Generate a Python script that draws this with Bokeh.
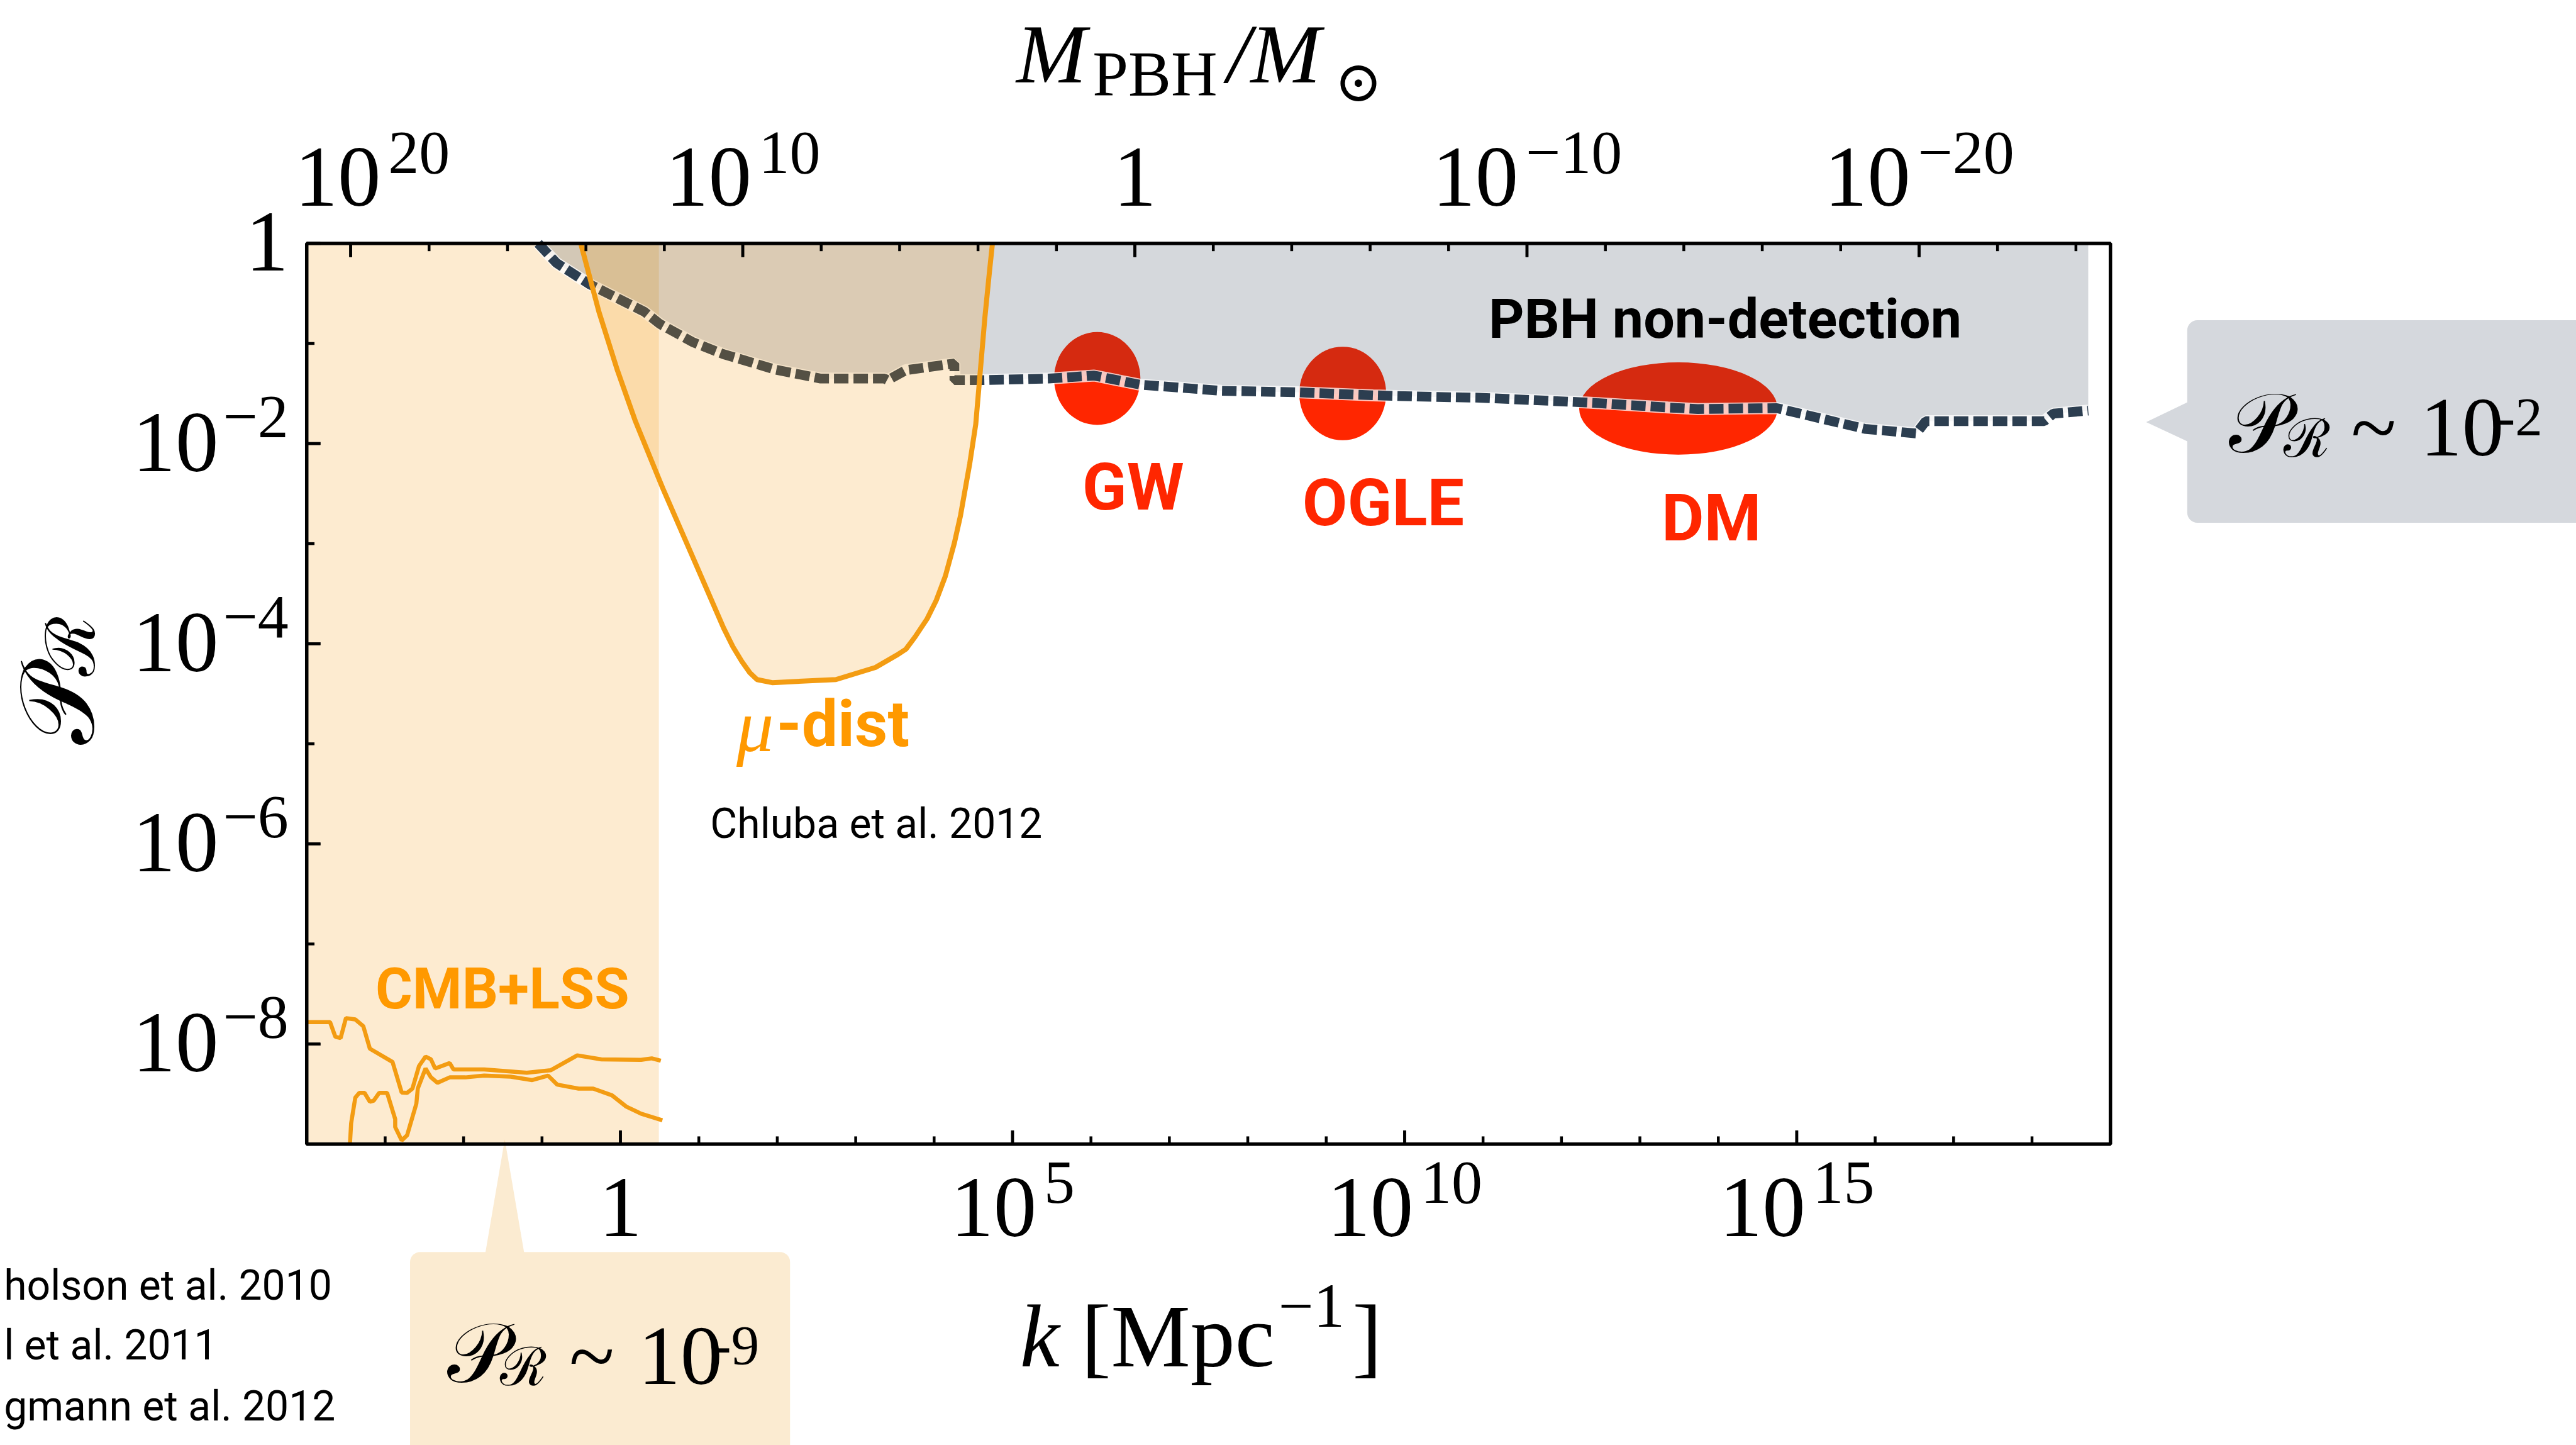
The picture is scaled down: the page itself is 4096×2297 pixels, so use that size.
from math import log10, pi
from bokeh.plotting import figure
from bokeh.models import Range1d, BoxAnnotation, PolyAnnotation, ColumnDataSource
from bokeh.core.properties import value
from bokeh.embed import file_html
from bokeh.resources import INLINE

# ---------------------------------------------------------------- data
# all values are log10 of k [Mpc^-1] and of P_R
pbh_logk = [-1.049, -0.816, -0.390, -0.003, 0.307, 0.500, 0.925, 1.313, 1.586, 1.973,
            2.555, 3.368, 3.407, 3.640, 4.259, 4.259, 4.609, 5.459, 6.042, 6.621,
            7.662, 8.631, 9.598, 10.373, 10.956, 12.310, 13.358, 13.738, 14.745,
            15.869, 16.525, 16.644, 18.155, 18.272, 18.717]
pbh_logP = [0.0, -0.196, -0.410, -0.562, -0.684, -0.804, -0.988, -1.107, -1.170, -1.261,
            -1.351, -1.351, -1.367, -1.267, -1.200, -1.367, -1.367, -1.351, -1.321, -1.411,
            -1.473, -1.488, -1.518, -1.534, -1.542, -1.589, -1.640, -1.655, -1.646,
            -1.853, -1.899, -1.777, -1.777, -1.701, -1.671]

mu_logk = [-0.506, -0.274, -0.042, 0.191, 0.539, 0.927, 1.315, 1.434, 1.547, 1.650, 1.741,
           1.935, 2.748, 3.252, 3.522, 3.640, 3.756, 3.911, 4.027, 4.143, 4.259, 4.337,
           4.454, 4.531, 4.647, 4.705, 4.744]
mu_logP = [0.0, -0.684, -1.260, -1.777, -2.445, -3.143, -3.842, -4.030, -4.176, -4.290, -4.358,
           -4.389, -4.358, -4.237, -4.115, -4.055, -3.933, -3.751, -3.568, -3.326, -2.992, -2.718,
           -2.202, -1.807, -0.744, -0.289, 0.0]

cmb1_logk = [-4.0, -3.703, -3.635, -3.568, -3.500, -3.381, -3.279, -3.195, -2.906, -2.789,
             -2.720, -2.652, -2.568, -2.485, -2.416, -2.363, -2.177, -2.128, -1.737, -1.194,
             -0.890, -0.550, -0.244, 0.264, 0.399, 0.515]
cmb1_logP = [-7.780, -7.780, -7.927, -7.940, -7.741, -7.754, -7.821, -8.046, -8.179, -8.485,
             -8.488, -8.445, -8.219, -8.125, -8.153, -8.244, -8.190, -8.254, -8.254, -8.286,
             -8.262, -8.113, -8.153, -8.158, -8.143, -8.167]
cmb2_logk = [-3.449, -3.434, -3.381, -3.330, -3.263, -3.195, -3.146, -3.077, -2.975, -2.872,
             -2.872, -2.789, -2.720, -2.602, -2.584, -2.485, -2.416, -2.333, -2.177, -1.976,
             -1.737, -1.399, -1.125, -0.923, -0.806, -0.533, -0.347, -0.108, 0.075, 0.264, 0.535]
cmb2_logP = [-9.0, -8.792, -8.536, -8.488, -8.488, -8.577, -8.565, -8.488, -8.488, -8.750,
             -8.830, -8.963, -8.911, -8.595, -8.445, -8.244, -8.333, -8.387, -8.333, -8.333,
             -8.315, -8.326, -8.360, -8.315, -8.405, -8.445, -8.445, -8.512, -8.625, -8.696, -8.762]
cmb_band_logk_max = 0.49

hint_names = ["GW", "OGLE", "DM"]
hint_logk = [6.08, 9.21, 13.49]
hint_logP = [-1.35, -1.50, -1.65]

k_ticks = [1.0, 1e5, 1e10, 1e15]
k_tick_exp = ["", "5", "10", "15"]
k_minor = [10.0 ** e for e in range(-4, 20)]
P_ticks = [1.0, 1e-2, 1e-4, 1e-6, 1e-8]
P_tick_exp = ["", "\u22122", "\u22124", "\u22126", "\u22128"]
P_minor = [10.0 ** e for e in range(-9, 1)]
M_ticks = [1e20, 1e10, 1.0, 1e-10, 1e-20]
M_tick_exp = ["20", "10", "", "\u221210", "\u221220"]
M_minor = [10.0 ** e for e in range(20, -26, -2)]
LOGM_AT_K1 = 13.12          # log10 M_PBH/M_sun at k = 1 Mpc^-1  (M ~ k^-2)

refs_left = ["holson et al. 2010", "l et al. 2011", "gmann et al. 2012"]

# ---------------------------------------------------------------- layout
S = 0.947
W, H = 4096, 2297
FL, FR, FT, FB = 514.5, 3543.0, 408.0, 1920.0      # plot frame, reference pixels
KMIN, KMAX, PMIN, PMAX = -4.0, 19.0, -9.0, 0.0
WR, HR = W / S, H / S


def kx(X):
    return 10 ** (KMIN + (X - FL) / (FR - FL) * (KMAX - KMIN))


def py(Y):
    return 10 ** (PMAX - (Y - FT) / (FB - FT) * (PMAX - PMIN))


def k_of_M(M):
    return 10 ** ((LOGM_AT_K1 - log10(M)) / 2)


SERIF = "Liberation Serif"
SANS = "Roboto"
ORANGE = "#F39C12"
ORANGE_TXT = "#FF9900"
NAVY = "#2C3E50"
RED = "#FF2600"

p = figure(width=W, height=H, x_axis_type="log", y_axis_type="log",
           x_range=Range1d(kx(0), kx(WR)), y_range=Range1d(py(HR), py(0)),
           x_axis_location=None, y_axis_location=None,
           output_backend="svg", toolbar_location=None, min_border=0)
p.background_fill_color = "white"
p.border_fill_color = "white"
p.outline_line_color = None
p.xgrid.visible = False
p.ygrid.visible = False

K0, K1, P0, P1 = 10 ** KMIN, 10 ** KMAX, 10 ** PMIN, 10 ** PMAX

# ---------------------------------------------------------------- callout boxes (underlay)
GRAY_BOX = "#D5D8DD"
PEACH_BOX = "#FBEBD1"
p.add_layout(BoxAnnotation(left=kx(3672), right=kx(4500), top=py(537), bottom=py(877),
                           fill_color=GRAY_BOX, fill_alpha=1.0, line_color=None,
                           border_radius=16, level="underlay"))
p.add_layout(PolyAnnotation(xs=[kx(3603), kx(3676), kx(3676)], ys=[py(708), py(673), py(742)],
                            fill_color=GRAY_BOX, fill_alpha=1.0, line_color=None, level="underlay"))
p.add_layout(BoxAnnotation(left=kx(688), right=kx(1326), top=py(2101), bottom=py(2600),
                           fill_color=PEACH_BOX, fill_alpha=1.0, line_color=None,
                           border_radius=16, level="underlay"))
p.add_layout(PolyAnnotation(xs=[kx(847), kx(814), kx(880)], ys=[py(1912), py(2105), py(2105)],
                            fill_color=PEACH_BOX, fill_alpha=1.0, line_color=None, level="underlay"))

# ---------------------------------------------------------------- glyphs
pbh_k = [10 ** v for v in pbh_logk]
pbh_P = [10 ** v for v in pbh_logP]
mu_k = [10 ** v for v in mu_logk]
mu_P = [10 ** v for v in mu_logP]

p.quad(left=[K0], right=[10 ** cmb_band_logk_max], bottom=[P0], top=[P1],
       fill_color=ORANGE, fill_alpha=0.2, line_color=None)
p.ellipse(x=[10 ** v for v in hint_logk], y=[10 ** v for v in hint_logP],
          width=[145 * S, 146 * S, 333 * S], height=[156 * S, 157 * S, 155 * S],
          width_units="screen", height_units="screen", fill_color=RED, line_color=None)
p.varea(x=pbh_k, y1=pbh_P, y2=[P1] * len(pbh_k), fill_color=NAVY, fill_alpha=0.2)
p.line(pbh_k, pbh_P, line_color="white", line_width=19, line_alpha=0.75)
p.line(pbh_k, pbh_P, line_color=NAVY, line_width=15.5, line_dash="23 8", line_cap="butt")
p.patch(mu_k, mu_P, fill_color=ORANGE, fill_alpha=0.2, line_color=None)
p.line(mu_k, mu_P, line_color=ORANGE, line_width=8)
p.line([10 ** v for v in cmb1_logk], [10 ** v for v in cmb1_logP], line_color=ORANGE, line_width=6.5)
p.line([10 ** v for v in cmb2_logk], [10 ** v for v in cmb2_logP], line_color=ORANGE, line_width=6.5)

# ---------------------------------------------------------------- frame and ticks
TMAJ, TMIN = 23.0, 13.0
kt = k_minor + k_ticks
p.segment(x0=kt, y0=[P0] * len(kt), x1=kt,
          y1=[py(FB - (TMAJ if k in k_ticks else TMIN)) for k in kt],
          line_color="black", line_width=4.5)
mt = M_minor + M_ticks
p.segment(x0=[k_of_M(m) for m in mt], y0=[P1] * len(mt), x1=[k_of_M(m) for m in mt],
          y1=[py(FT + (TMAJ if m in M_ticks else TMIN)) for m in mt],
          line_color="black", line_width=4.5)
pt = P_minor + P_ticks
p.segment(x0=[K0] * len(pt), y0=pt, x1=[kx(FL + (TMAJ if v in P_ticks else TMIN)) for v in pt],
          y1=pt, line_color="black", line_width=4.5)
p.quad(left=[K0], right=[K1], bottom=[P0], top=[P1], fill_color=None,
       line_color="black", line_width=5.5)

# ---------------------------------------------------------------- texts
COLS = ("x", "y", "text", "font", "size", "style", "color", "align", "angle", "xo")
T = {c: [] for c in COLS}
BASE_CORR = {SERIF: 0.29, SANS: 0.37, "DejaVu Serif": 0.30}


def txt(x, Y, text, size, font=SERIF, style="normal", color="black", align="left", angle=0.0, xo=0.0):
    """x in data units, Y = wanted baseline in reference pixels"""
    corr = BASE_CORR.get(font, 0.3) * size if angle == 0.0 else 0.0
    for c, v in zip(COLS, (x, py(Y - corr), text, font, f"{round(size * S)}px", style, color,
                           align, angle, xo)):
        T[c].append(v)


def lab(X, Y, text, size, **kw):
    txt(kx(X), Y, text, size, **kw)


F, FE, G = 145.0, 103.0, 12.0


def exp_width(e):
    return sum(0.564 if ch == "\u2212" else 0.5 for ch in e) * FE


def centered_ticklabels(kvals, exps, ybase, yexp, shifts=None):
    for i, (v, e) in enumerate(zip(kvals, exps)):
        sh = shifts[i] if shifts else 0.0
        if e == "":
            txt(v, ybase, "1", F, align="center", xo=sh * S)
        else:
            left = -(F + G + exp_width(e)) / 2 + sh
            txt(v, ybase, "10", F, xo=left * S)
            txt(v, yexp, e, FE, xo=(left + F + G) * S)


centered_ticklabels(k_ticks, k_tick_exp, 2068, 2015)
centered_ticklabels([k_of_M(m) for m in M_ticks], M_tick_exp, 339, 286, shifts=[36, 0, 0, 0, 0])

for v, e in zip(P_ticks, P_tick_exp):
    ty = FT + (PMAX - log10(v)) * (FB - FT) / (PMAX - PMIN)
    if e == "":
        lab(484, ty + 40, "1", F, align="right")
    else:
        lab(484, ty + 40 - 55, e, FE, align="right")
        lab(484 - exp_width(e) - G + 4, ty + 40, "10", F, align="right")

# axis titles
lab(1706, 131, "M", 141, style="italic")
lab(1834, 155, "PBH", 108)
lab(2060, 131, "/M", 141, style="italic")
lab(2240, 165, "\u2299", 96, font="DejaVu Serif")

lab(1712, 2286, "k", 150, style="italic")
lab(1815, 2286, "[Mpc", 150)
lab(2146, 2223, "\u22121", 105)
lab(2270, 2286, "]", 150)

lab(97, 1250, "\U0001D4AB", 175, angle=pi / 2)
lab(119, 1135, "\u211B", 115, angle=pi / 2)

# region labels
lab(2896, 569, "PBH non-detection", 93, font=SANS, style="bold", align="center")
for name, X, Y in zip(hint_names, [1902, 2322, 2873], [858, 884, 910]):
    lab(X, Y, name, 110, font=SANS, style="bold", color=RED, align="center")
lab(843, 1695, "CMB+LSS", 95, font=SANS, style="bold", color=ORANGE_TXT, align="center")
lab(1236, 1255, "\u03bc", 125, style="italic", color=ORANGE_TXT)
lab(1303, 1255, "-dist", 108, font=SANS, style="bold", color=ORANGE_TXT)
lab(1192, 1408, "Chluba et al. 2012", 70, font=SANS)
for t, yb in zip(refs_left, [2183, 2284, 2386]):
    lab(6, yb, t, 70, font=SANS)

# callout texts
lab(3742, 752, "\U0001D4AB", 140)
lab(3834, 762, "\u211B", 90)
lab(3947, 758, "~", 140)
lab(4063, 758, "10", 140)
lab(4192, 727, "-2", 92)

lab(750, 2312, "\U0001D4AB", 140)
lab(839, 2320, "\u211B", 90)
lab(955, 2317, "~", 140)
lab(1071, 2317, "10", 142)
lab(1196, 2285, "-9", 94)

p.text(x="x", y="y", text="text", source=ColumnDataSource(T), text_font="font",
       text_font_size="size", text_font_style="style", text_color="color", text_align="align",
       text_baseline=value("alphabetic"), angle="angle", x_offset="xo")

open("out.html", "w").write(file_html(p, INLINE))
